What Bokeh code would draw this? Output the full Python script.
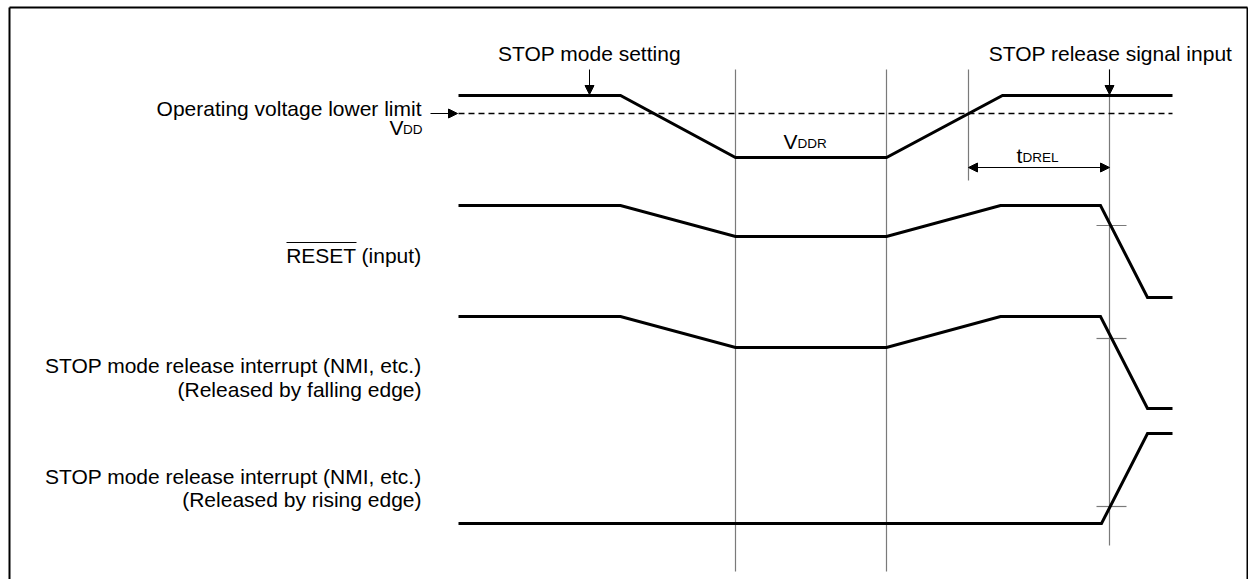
from bokeh.plotting import figure
from bokeh.models import Range1d, Arrow, NormalHead
from bokeh.core.properties import value
from bokeh.embed import file_html
from bokeh.resources import INLINE

FONT = value("Liberation Sans")
FS = "21px"
SUB = "13.5px"

# ---- timing data (time positions / signal levels in diagram units) ----
vdd_t = [458, 620, 735, 886, 1002, 1172]
vdd_v = [95, 95, 157, 157, 95, 95]
vdd_min_level = 113
vdd_min_t = [458, 1172]

reset_t = [458, 620, 735, 886, 1000, 1100, 1147, 1172]
reset_v = [205, 205, 236, 236, 205, 205, 297, 297]

nmi_fall_t = [458, 620, 735, 886, 1000, 1100, 1147, 1172]
nmi_fall_v = [316, 316, 347, 347, 316, 316, 408, 408]

nmi_rise_t = [458, 1101, 1147, 1172]
nmi_rise_v = [523, 523, 433, 433]

# reference markers
mark_x = [735, 886, 968, 1109]
mark_top = [69, 69, 69, 69]
mark_bot = [571, 571, 180, 545]

cross_y = [225, 338, 506]
cross_x0, cross_x1 = 1096, 1126

stop_set_t = 589
release_t = 1109
tdrel_start, tdrel_end, tdrel_y = 968, 1109, 167

labels_right = ["Operating voltage lower limit", "RESET (input)",
                "STOP mode release interrupt (NMI, etc.)", "(Released by falling edge)",
                "STOP mode release interrupt (NMI, etc.)", "(Released by rising edge)"]
labels_y = [108, 255, 365, 389, 476, 499]

W, H = 1248, 579
p = figure(width=W, height=H, output_backend="svg", toolbar_location=None,
           x_range=Range1d(0, W), y_range=Range1d(H, 0),
           x_axis_location=None, y_axis_location=None, min_border=0)
p.grid.visible = False
p.outline_line_color = None
p.background_fill_color = "white"

# frame (top, left, right)
p.line([9, 9], [H, 7], line_color="black", line_width=2)
p.line([9, W - 1], [7, 7], line_color="black", line_width=2)
p.line([W - 1, W - 1], [7, H], line_color="black", line_width=2)

# vertical markers
p.segment(x0=mark_x, y0=mark_top, x1=mark_x, y1=mark_bot, line_color="#7a7a7a", line_width=1.2)
# crossing ticks
p.segment(x0=[cross_x0]*3, y0=cross_y, x1=[cross_x1]*3, y1=cross_y, line_color="#7a7a7a", line_width=1.2)

# dashed lower limit
p.line(vdd_min_t, [vdd_min_level]*2, line_color="black", line_width=1.3, line_dash="6 4")

# waveforms
for xs, ys in [(vdd_t, vdd_v), (reset_t, reset_v), (nmi_fall_t, nmi_fall_v), (nmi_rise_t, nmi_rise_v)]:
    p.line(xs, ys, line_color="black", line_width=3, line_join="miter")

def head():
    return NormalHead(size=9, fill_color="black", line_color="black")

p.add_layout(Arrow(end=head(), x_start=stop_set_t, y_start=69, x_end=stop_set_t, y_end=94,
                   line_color="black", line_width=1))
p.add_layout(Arrow(end=head(), x_start=release_t, y_start=69, x_end=release_t, y_end=94,
                   line_color="black", line_width=1))
p.add_layout(Arrow(end=head(), x_start=430, y_start=vdd_min_level, x_end=457, y_end=vdd_min_level,
                   line_color="black", line_width=1))
p.add_layout(Arrow(start=head(), end=head(), x_start=tdrel_start, y_start=tdrel_y,
                   x_end=tdrel_end, y_end=tdrel_y, line_color="black", line_width=1))

# text labels
p.text(x=[421]*len(labels_right), y=labels_y, text=labels_right, text_align="right",
       text_baseline="middle", text_font=FONT, text_font_size=FS, text_color="black")
p.text(x=[stop_set_t, release_t + 1], y=[53, 53], text=["STOP mode setting", "STOP release signal input"],
       text_align="center", text_baseline="middle", text_font=FONT, text_font_size=FS,
       text_color="black")

# overline on RESET
p.line([286, 356], [242, 242], line_color="black", line_width=1)

# subscripted symbols (main letter / subscript share a baseline)
p.text(x=[403], y=[126.6], text=["V"], text_align="right",
       text_baseline="middle", text_font=FONT, text_font_size=FS, text_color="black")
p.text(x=[422], y=[129.2], text=["DD"], text_align="right",
       text_baseline="middle", text_font=FONT, text_font_size=SUB, text_color="black")
p.text(x=[783, 1016], y=[140.6, 154.6], text=["V", "t"], text_align="left",
       text_baseline="middle", text_font=FONT, text_font_size=FS, text_color="black")
p.text(x=[797, 1022], y=[143.2, 157.2], text=["DDR", "DREL"], text_align="left",
       text_baseline="middle", text_font=FONT, text_font_size=SUB, text_color="black")

open("out.html", "w").write(file_html(p, INLINE))
